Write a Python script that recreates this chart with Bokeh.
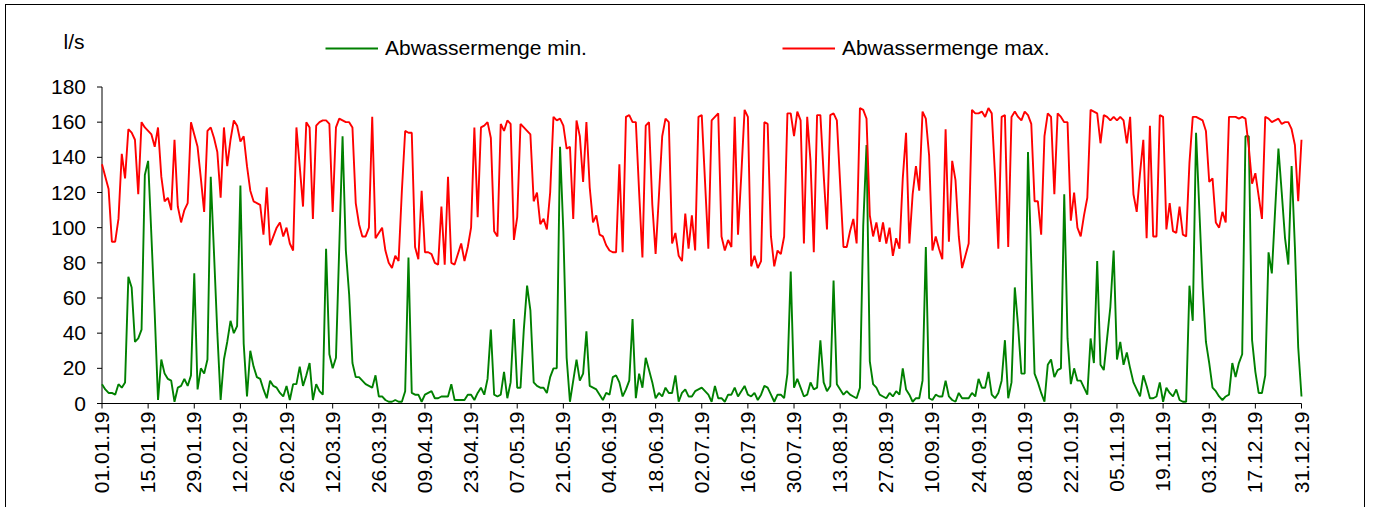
import math
import datetime as dt
from bokeh.plotting import figure
from bokeh.models import Range1d, Legend, LegendItem, Label, ColumnDataSource
from bokeh.core.properties import value
from bokeh.embed import file_html
from bokeh.resources import INLINE

# ---------------- data ----------------
first_day = "01.01.19"
n_days = 365

tick_labels = ["01.01.19", "15.01.19", "29.01.19", "12.02.19", "26.02.19", "12.03.19",
               "26.03.19", "09.04.19", "23.04.19", "07.05.19", "21.05.19", "04.06.19",
               "18.06.19", "02.07.19", "16.07.19", "30.07.19", "13.08.19", "27.08.19",
               "10.09.19", "24.09.19", "08.10.19", "22.10.19", "05.11.19", "19.11.19",
               "03.12.19", "17.12.19", "31.12.19"]

y_ticks = [0, 20, 40, 60, 80, 100, 120, 140, 160, 180]

abwasser_max = [
    136, 129, 122, 92, 92, 105, 142, 128, 156, 154,
    150, 119, 160, 157, 155, 153, 146, 157, 129, 115,
    117, 110, 150, 112, 103, 110, 114, 160, 153, 146,
    128, 109, 155, 157, 151, 143, 117, 157, 135, 150,
    161, 158, 149, 152, 135, 121, 115, 114, 113, 96,
    123, 90, 95, 100, 103, 95, 100, 91, 87, 157,
    135, 112, 160, 157, 105, 158, 160, 161, 161, 159,
    109, 157, 162, 161, 160, 160, 157, 114, 102, 95,
    95, 100, 163, 94, 97, 100, 87, 80, 77, 84,
    81, 121, 155, 154, 154, 89, 82, 121, 86, 86,
    85, 80, 79, 112, 79, 129, 80, 79, 85, 91,
    81, 89, 100, 157, 106, 157, 158, 160, 151, 98,
    95, 159, 155, 161, 159, 93, 106, 159, 157, 155,
    153, 115, 120, 102, 105, 99, 120, 163, 161, 162,
    158, 145, 146, 105, 161, 152, 126, 160, 123, 103,
    107, 96, 95, 90, 87, 86, 86, 136, 86, 163,
    164, 160, 160, 120, 83, 158, 160, 113, 85, 118,
    152, 162, 160, 91, 97, 84, 81, 108, 88, 107,
    87, 163, 164, 126, 88, 161, 163, 165, 95, 87,
    93, 89, 163, 96, 130, 167, 163, 78, 84, 77,
    81, 160, 159, 95, 78, 87, 85, 95, 165, 165,
    152, 166, 161, 91, 163, 138, 86, 164, 164, 130,
    99, 164, 165, 161, 125, 89, 89, 98, 105, 91,
    168, 167, 162, 107, 95, 103, 92, 103, 91, 100,
    84, 94, 88, 128, 154, 91, 119, 135, 121, 166,
    162, 141, 87, 95, 88, 82, 156, 92, 138, 127,
    95, 77, 84, 91, 167, 165, 165, 166, 163, 168,
    165, 130, 88, 163, 164, 89, 163, 166, 163, 161,
    166, 164, 159, 115, 115, 96, 152, 165, 163, 119,
    165, 163, 160, 160, 104, 120, 100, 95, 107, 117,
    167, 166, 165, 148, 164, 163, 161, 163, 161, 163,
    161, 148, 163, 119, 109, 131, 150, 94, 158, 95,
    95, 164, 163, 99, 114, 98, 97, 112, 96, 95,
    137, 163, 163, 162, 161, 155, 126, 128, 103, 100,
    109, 103, 163, 163, 163, 162, 163, 162, 146, 125,
    131, 118, 105, 163, 162, 160, 161, 162, 159, 160,
    160, 156, 147, 115, 150,
]

abwasser_min = [
    11, 8, 6, 6, 5, 11, 9, 12, 72, 66,
    35, 37, 42, 130, 138, 95, 51, 2, 25, 17,
    14, 13, 1, 9, 10, 14, 10, 16, 74, 8,
    20, 17, 25, 129, 85, 40, 2, 25, 35, 47,
    40, 44, 124, 34, 4, 30, 21, 15, 14, 8,
    3, 13, 10, 9, 6, 4, 10, 2, 11, 11,
    21, 10, 16, 23, 2, 11, 7, 5, 88, 28,
    20, 26, 89, 152, 87, 62, 23, 15, 15, 13,
    11, 10, 9, 16, 4, 4, 2, 1, 1, 2,
    1, 1, 7, 83, 6, 5, 5, 1, 5, 6,
    7, 3, 3, 4, 4, 4, 11, 2, 2, 2,
    2, 5, 5, 2, 6, 9, 5, 14, 42, 5,
    4, 5, 18, 3, 12, 48, 9, 9, 42, 67,
    53, 12, 10, 9, 9, 6, 15, 20, 20, 146,
    98, 26, 1, 13, 25, 13, 17, 41, 10, 9,
    8, 5, 2, 6, 5, 15, 16, 12, 4, 8,
    13, 48, 3, 17, 9, 26, 19, 12, 3, 6,
    4, 9, 6, 6, 16, 1, 6, 8, 4, 4,
    7, 8, 9, 7, 5, 1, 10, 3, 3, 1,
    5, 5, 9, 4, 7, 10, 5, 4, 6, 2,
    5, 10, 9, 5, 1, 5, 5, 3, 17, 75,
    9, 14, 9, 4, 5, 12, 8, 9, 36, 12,
    7, 10, 70, 11, 8, 5, 7, 5, 4, 3,
    9, 101, 147, 24, 11, 9, 5, 4, 3, 6,
    4, 7, 5, 20, 8, 5, 1, 3, 3, 13,
    89, 3, 2, 5, 4, 4, 13, 4, 2, 1,
    6, 3, 3, 3, 6, 4, 14, 9, 9, 18,
    5, 3, 6, 13, 36, 3, 12, 66, 44, 17,
    17, 143, 80, 17, 12, 6, 1, 22, 25, 15,
    19, 20, 119, 37, 11, 20, 13, 13, 9, 5,
    37, 23, 81, 22, 19, 37, 55, 87, 25, 35,
    22, 29, 20, 12, 8, 4, 16, 10, 3, 3,
    4, 12, 1, 9, 6, 4, 8, 2, 1, 1,
    67, 47, 154, 110, 66, 35, 23, 9, 7, 4,
    2, 4, 5, 23, 15, 23, 28, 152, 152, 36,
    18, 6, 6, 16, 86, 74, 110, 145, 120, 94,
    79, 135, 89, 32, 4,
]

series_names = ["Abwassermenge min.", "Abwassermenge max."]
series_colors = ["#008000", "#FF0000"]
unit_label = "l/s"

# ---------------- layout (page pixels) ----------------
MARGIN_L, MARGIN_T = 5, 4          # outer border position
CANVAS_W, CANVAS_H = 1360, 503
CX0, CY0 = MARGIN_L + 1, MARGIN_T + 1   # canvas origin (inside 1px border)
FRAME_L, FRAME_R, FRAME_T = 44, 1335, 20
FRAME_B = CY0 + CANVAS_H
AXIS_X = 101.5      # page x of first day
LAST_X = 1301.0     # page x of last day
ZERO_Y = 403.0      # page y of value 0
TOP_Y = 86.5        # page y of value 180
TICK_OUT = 5
YLABEL_GAP = 11
XLABEL_GAP = 8

def parse(s):
    return dt.datetime.strptime(s, "%d.%m.%y")

start = parse(first_day)
dates = [start + dt.timedelta(days=i) for i in range(n_days)]
EPOCH = dt.datetime(1970, 1, 1)
def ms(d):
    return (d - EPOCH).total_seconds() * 1000.0

x0_ms, x1_ms = ms(dates[0]), ms(dates[-1])
px_per_ms = (LAST_X - AXIS_X) / (x1_ms - x0_ms)
x_start = x0_ms - (AXIS_X - FRAME_L) / px_per_ms
x_end = x1_ms + (FRAME_R - LAST_X) / px_per_ms
px_per_unit = (ZERO_Y - TOP_Y) / (y_ticks[-1] - y_ticks[0])
y_start = y_ticks[0] - (FRAME_B - ZERO_Y) / px_per_unit
y_end = y_ticks[0] + (ZERO_Y - FRAME_T) / px_per_unit

src = ColumnDataSource(dict(date=dates, vmin=abwasser_min, vmax=abwasser_max))
ytick_src = ColumnDataSource(dict(x=[dates[0]] * len(y_ticks), y=y_ticks,
                                  t=[str(v) for v in y_ticks]))
xtick_src = ColumnDataSource(dict(x=[parse(t) for t in tick_labels],
                                  y=[y_ticks[0]] * len(tick_labels), t=tick_labels))

FONT = "Liberation Sans"
FS = "21px"

p = figure(width=CANVAS_W, height=CANVAS_H, x_axis_type="datetime",
           x_range=Range1d(x_start, x_end), y_range=Range1d(y_start, y_end),
           output_backend="svg", toolbar_location=None,
           min_border_left=FRAME_L - CX0, min_border_right=CX0 + CANVAS_W - FRAME_R,
           min_border_top=FRAME_T - CY0, min_border_bottom=0)
p.styles = {"margin-left": f"{MARGIN_L}px", "margin-top": f"{MARGIN_T}px",
            "border-top": "1px solid black", "border-left": "1px solid black",
            "border-right": "1px solid black"}

p.xgrid.visible = False
p.ygrid.visible = False
p.xaxis.visible = False
p.yaxis.visible = False
p.outline_line_color = None
p.background_fill_color = "white"
p.border_fill_color = "white"

# axis lines (drawn from the data extents)
p.segment(x0=[dates[0], dates[0]], y0=[y_ticks[0], y_ticks[0]],
          x1=[dates[0], dates[-1]], y1=[y_ticks[-1], y_ticks[0]],
          line_color="black", line_width=1)

r_min = p.line("date", "vmin", source=src, line_color=series_colors[0], line_width=1.9)
r_max = p.line("date", "vmax", source=src, line_color=series_colors[1], line_width=1.9)

# y axis ticks and labels
p.ray(x="x", y="y", source=ytick_src, length=TICK_OUT, length_units="screen",
      angle=math.pi, line_color="black", line_width=1)
p.text(x="x", y="y", text="t", source=ytick_src, x_offset=-(TICK_OUT + YLABEL_GAP),
       text_align="right", text_baseline="middle", text_font=value(FONT),
       text_font_size=value(FS), text_color="black")

# x axis ticks and labels (vertical, reading upwards)
p.ray(x="x", y="y", source=xtick_src, length=TICK_OUT, length_units="screen",
      angle=-math.pi / 2, line_color="black", line_width=1)
p.text(x="x", y="y", text="t", source=xtick_src, y_offset=XLABEL_GAP,
       angle=math.pi / 2, text_align="right", text_baseline="middle",
       text_font=value(FONT), text_font_size=value(FS), text_color="black")

# unit label
p.add_layout(Label(x=63 - FRAME_L, y=FRAME_B - 41, x_units="screen", y_units="screen",
                   text=unit_label, text_font=FONT, text_font_size=FS,
                   text_color="black", text_baseline="middle", text_align="left"))

# legend
LEG_H = 24
legend = Legend(items=[LegendItem(label=series_names[0], renderers=[r_min]),
                       LegendItem(label=series_names[1], renderers=[r_max])],
                orientation="horizontal",
                location=(325 - FRAME_L, FRAME_B - (48 + LEG_H / 2)),
                border_line_color=None, background_fill_alpha=0,
                padding=0, margin=0, spacing=195,
                glyph_width=53, glyph_height=LEG_H, label_height=LEG_H,
                label_standoff=7,
                label_text_font=FONT, label_text_font_size=FS,
                label_text_color="black")
p.add_layout(legend, "center")

open("out.html", "w").write(file_html(p, INLINE))
